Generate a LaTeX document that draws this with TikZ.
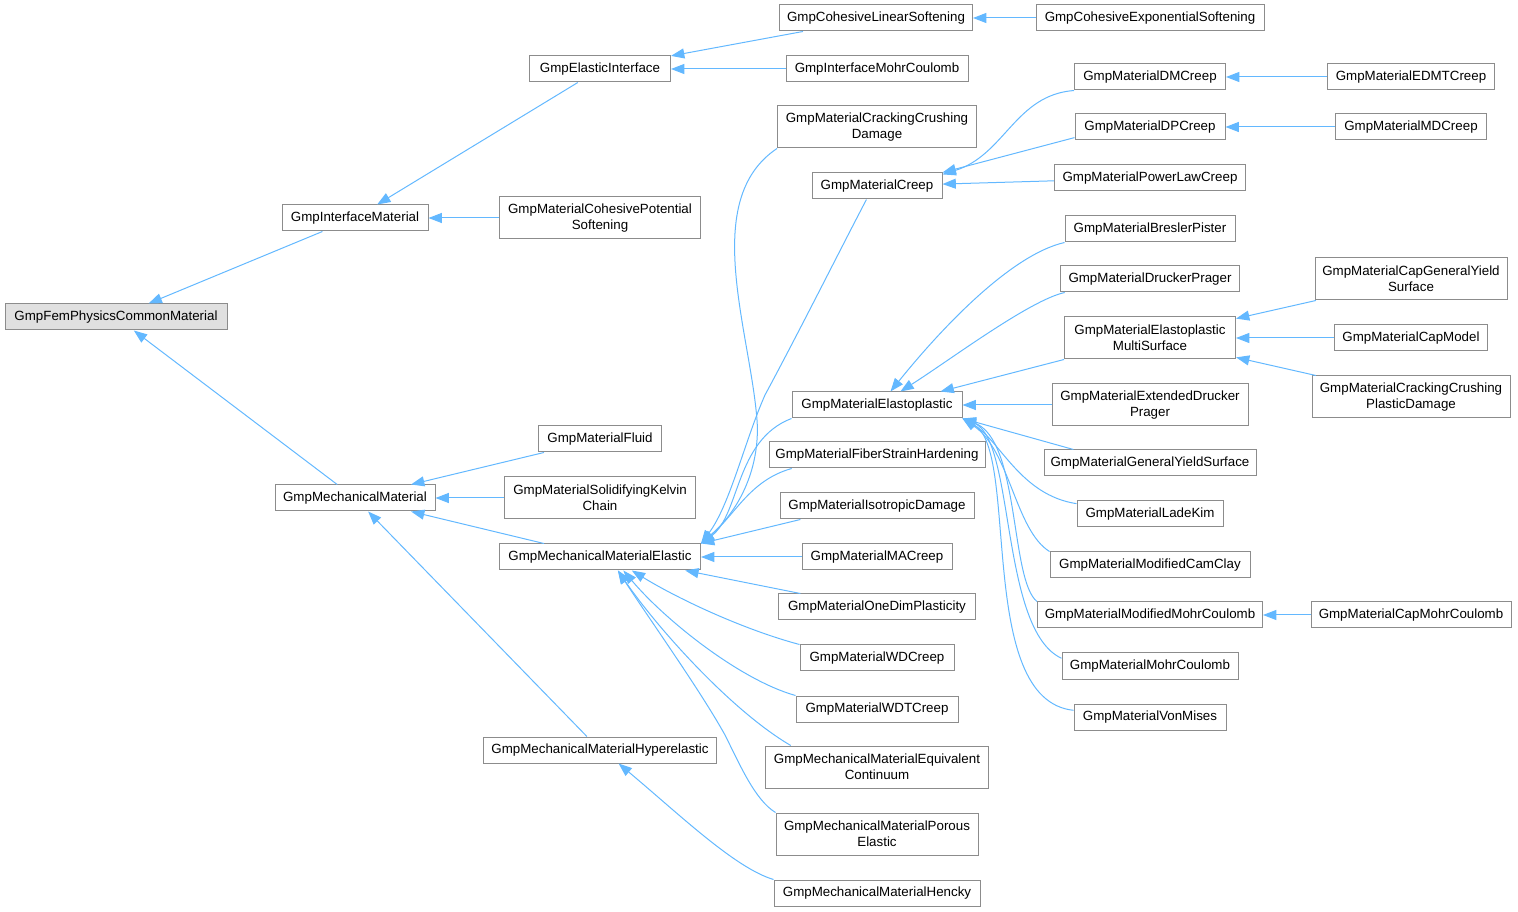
\documentclass[tikz,border=0pt]{standalone}
\usepackage{fontspec}
\newfontfamily\doxfont{Liberation Sans}
\usetikzlibrary{arrows.meta}
\definecolor{edgeblue}{HTML}{63B8FF}
\definecolor{boxgray}{HTML}{8C8C8C}
\definecolor{rootgray}{HTML}{E0E0E0}
\tikzset{
  cbox/.style={draw=boxgray, line width=0.75pt, fill=white, inner sep=0pt, align=center,
    minimum height=19.5pt, font=\doxfont\fontsize{10}{12}\selectfont},
  two/.style={minimum height=31.5pt},
  bw/.style={minimum width=#1*0.75pt},
  inh/.style={draw=edgeblue, line width=0.75pt, {Triangle[length=10pt,width=7.5pt]}-}
}

\begin{document}
\begin{tikzpicture}[x=0.75pt,y=-0.75pt]
\useasboundingbox (0,0) rectangle (1518,912);

\node[cbox, bw=222, fill=rootgray] (fem) at (116,317) {GmpFemPhysicsCommonMaterial};
\node[cbox, bw=146] (intf) at (355,218) {GmpInterfaceMaterial};
\node[cbox, bw=160] (mech) at (355,498) {GmpMechanicalMaterial};

\node[cbox, bw=141] (elint) at (600,69) {GmpElasticInterface};
\node[cbox, bw=201, two] (cps) at (600,218) {GmpMaterialCohesivePotential\\Softening};
\node[cbox, bw=123] (fluid) at (600,439) {GmpMaterialFluid};
\node[cbox, bw=191, two] (skc) at (600,498) {GmpMaterialSolidifyingKelvin\\Chain};
\node[cbox, bw=201] (el) at (600,557) {GmpMechanicalMaterialElastic};
\node[cbox, bw=233] (hyp) at (600,750) {GmpMechanicalMaterialHyperelastic};

\node[cbox, bw=193] (cls) at (876,18) {GmpCohesiveLinearSoftening};
\node[cbox, bw=182] (imc) at (877,69) {GmpInterfaceMohrCoulomb};
\node[cbox, bw=199, two] (ccd) at (877,127) {GmpMaterialCrackingCrushing\\Damage};
\node[cbox, bw=130] (creep) at (877,186) {GmpMaterialCreep};
\node[cbox, bw=170] (ep) at (877,405) {GmpMaterialElastoplastic};
\node[cbox, bw=216] (fsh) at (877,455) {GmpMaterialFiberStrainHardening};
\node[cbox, bw=194] (iso) at (877,506) {GmpMaterialIsotropicDamage};
\node[cbox, bw=150] (mac) at (877,557) {GmpMaterialMACreep};
\node[cbox, bw=197] (odp) at (877,607) {GmpMaterialOneDimPlasticity};
\node[cbox, bw=154] (wd) at (877,658) {GmpMaterialWDCreep};
\node[cbox, bw=162] (wdt) at (877,709) {GmpMaterialWDTCreep};
\node[cbox, bw=223, two] (eqc) at (877,767) {GmpMechanicalMaterialEquivalent\\Continuum};
\node[cbox, bw=202, two] (por) at (877,834) {GmpMechanicalMaterialPorous\\Elastic};
\node[cbox, bw=206] (hen) at (877,893) {GmpMechanicalMaterialHencky};

\node[cbox, bw=228] (ces) at (1150,18) {GmpCohesiveExponentialSoftening};
\node[cbox, bw=151] (dm) at (1150,77) {GmpMaterialDMCreep};
\node[cbox, bw=150] (dp) at (1150,127) {GmpMaterialDPCreep};
\node[cbox, bw=191] (pl) at (1150,178) {GmpMaterialPowerLawCreep};
\node[cbox, bw=170] (bp) at (1150,229) {GmpMaterialBreslerPister};
\node[cbox, bw=179] (dpr) at (1150,279) {GmpMaterialDruckerPrager};
\node[cbox, bw=171, two] (ms) at (1150,338) {GmpMaterialElastoplastic\\MultiSurface};
\node[cbox, bw=196, two] (edp) at (1150,405) {GmpMaterialExtendedDrucker\\Prager};
\node[cbox, bw=212] (gys) at (1150,463) {GmpMaterialGeneralYieldSurface};
\node[cbox, bw=146] (lk) at (1150,514) {GmpMaterialLadeKim};
\node[cbox, bw=200] (mcc) at (1150,565) {GmpMaterialModifiedCamClay};
\node[cbox, bw=225] (mmc) at (1150,615) {GmpMaterialModifiedMohrCoulomb};
\node[cbox, bw=176] (mc) at (1150,666) {GmpMaterialMohrCoulomb};
\node[cbox, bw=152] (vm) at (1150,717) {GmpMaterialVonMises};

\node[cbox, bw=167] (edmt) at (1411,77) {GmpMaterialEDMTCreep};
\node[cbox, bw=151] (md) at (1411,127) {GmpMaterialMDCreep};
\node[cbox, bw=192, two] (cgy) at (1411,279) {GmpMaterialCapGeneralYield\\Surface};
\node[cbox, bw=153] (cm) at (1411,338) {GmpMaterialCapModel};
\node[cbox, bw=198, two] (ccpd) at (1411,397) {GmpMaterialCrackingCrushing\\PlasticDamage};
\node[cbox, bw=200] (cmc) at (1411,615) {GmpMaterialCapMohrCoulomb};

\foreach \p/\c in {fem/intf, fem/mech, intf/elint, intf/cps, elint/cls, elint/imc, cls/ces,
  mech/fluid, mech/skc, mech/el, mech/hyp, el/mac, creep/pl, dm/edmt, dp/md, ep/edp,
  ms/cgy, ms/cm, ms/ccpd, mmc/cmc} {
  \draw[inh] (\p) -- (\c);
}

\draw[inh] (hyp.-36) .. controls (680,815) and (735,868) .. (hen.north west);

\draw[inh] (el.north east) .. controls (745,505) and (760,460) .. (757,420)
  .. controls (750,330) and (700,200) .. (ccd.south west);
\draw[inh] (el.north east) .. controls (730,505) and (745,440) .. (765,395)
  .. controls (800,330) and (840,250) .. (creep.-128);
\draw[inh] (el.north east) .. controls (740,515) and (735,440) .. (ep.south west);
\draw[inh] (el.north east) .. controls (735,515) and (750,480) .. (fsh.-171);
\draw[inh] (el.north east) -- (iso.-170);
\draw[inh] (el.-9) -- (odp.170);
\draw[inh] (el.-23) .. controls (680,600) and (745,630) .. (wd.north west);
\draw[inh] (el.-30) .. controls (665,620) and (740,680) .. (wdt.north west);
\draw[inh] (el.-37) .. controls (655,625) and (730,710) .. (eqc.166);
\draw[inh] (el.-37) .. controls (650,620) and (700,690) .. (725,735)
  .. controls (740,765) and (755,800) .. (por.north west);

\draw[inh] (creep.10) .. controls (1005,155) and (1015,95) .. (dm.south west);
\draw[inh] (creep.north east) -- (dp.-172);

\draw[inh] (ep.45) .. controls (940,330) and (1010,255) .. (bp.south west);
\draw[inh] (ep.30) .. controls (950,360) and (1030,300) .. (dpr.-171);
\draw[inh] (ep.12) -- (ms.south west);
\draw[inh] (ep.south east) -- (gys.170);
\draw[inh] (ep.south east) .. controls (1000,440) and (1020,495) .. (lk.172);
\draw[inh] (ep.south east) .. controls (1010,450) and (1015,530) .. (mcc.north west);
\draw[inh] (ep.south east) .. controls (1020,440) and (1010,580) .. (mmc.north west);
\draw[inh] (ep.south east) .. controls (1015,440) and (1000,630) .. (mc.175);
\draw[inh] (ep.south east) .. controls (1020,450) and (975,700) .. (vm.175);
\end{tikzpicture}
\end{document}
